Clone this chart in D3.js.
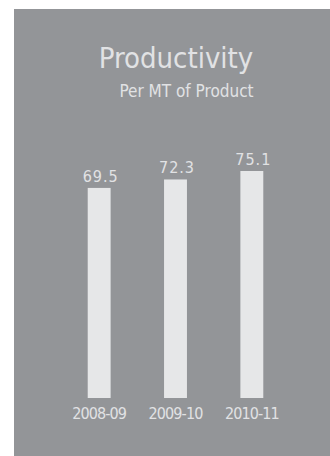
<!DOCTYPE html>
<html>
<head>
<meta charset="utf-8">
<script src="https://cdn.jsdelivr.net/npm/d3@7"></script>
<style>
  body { margin: 0; background: #fff; }
  text { font-family: "Liberation Sans Narrow", "DejaVu Sans Condensed", sans-serif; fill: #e1e2e4; }
</style>
</head>
<body>
<div id="chart"></div>
<script>
/* DATA */
const years = ["2008-09", "2009-10", "2010-11"];
const values = [69.5, 72.3, 75.1];
const title = "Productivity";
const subtitle = "Per MT of Product";

const width = 330, height = 456;

const svg = d3.select("#chart").append("svg")
  .attr("width", width)
  .attr("height", height);

// gray panel
svg.append("rect")
  .attr("x", 14).attr("y", 9)
  .attr("width", width - 14).attr("height", height - 9)
  .attr("fill", "#939598");

// scales
const xScale = d3.scaleBand()
  .domain(years)
  .range([61, 290])
  .paddingInner(0.7)
  .paddingOuter(0.35);

const yScale = d3.scaleLinear()
  .domain([0, 75.1])
  .range([398, 171]);

// title
svg.append("text")
  .attr("x", 176).attr("y", 68)
  .attr("text-anchor", "middle")
  .attr("font-size", 29)
  .text(title);

svg.append("text")
  .attr("x", 186.5).attr("y", 97)
  .attr("text-anchor", "middle")
  .attr("font-size", 17)
  .text(subtitle);

// bars
svg.selectAll("rect.bar")
  .data(values)
  .join("rect")
  .attr("class", "bar")
  .attr("x", (d, i) => xScale(years[i]))
  .attr("y", d => yScale(d))
  .attr("width", xScale.bandwidth())
  .attr("height", d => yScale(0) - yScale(d))
  .attr("fill", "#e6e7e8");

// value labels
svg.selectAll("text.val")
  .data(values)
  .join("text")
  .attr("class", "val")
  .attr("x", (d, i) => xScale(years[i]) + xScale.bandwidth() / 2 + 1.5)
  .attr("y", d => yScale(d) - 6)
  .attr("text-anchor", "middle")
  .attr("font-size", 16)
  .attr("letter-spacing", 1)
  .text(d => d.toFixed(1));

// x axis labels
const xAxis = d3.axisBottom(xScale).tickSize(0).tickPadding(0);
const gx = svg.append("g")
  .attr("transform", `translate(0, ${yScale(0)})`)
  .call(xAxis);
gx.select(".domain").remove();
gx.selectAll("text")
  .attr("y", 21)
  .attr("dy", 0)
  .attr("font-size", 16)
  .attr("letter-spacing", -0.9)
  .attr("font-family", null)
  .attr("fill", null);
</script>
</body>
</html>
